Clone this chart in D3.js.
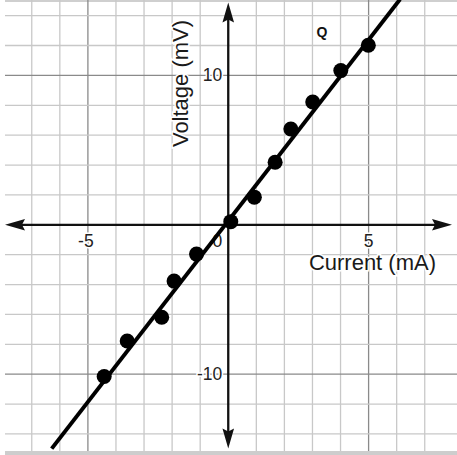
<!DOCTYPE html>
<html><head><meta charset="utf-8">
<script src="https://cdn.jsdelivr.net/npm/d3@7/dist/d3.min.js"></script>
<style>html,body{margin:0;padding:0;background:#fff;}svg{display:block;}</style>
</head><body>
<script>
// ---- data ----
const currents = [-4.42, -3.6, -2.37, -1.93, -1.13, 0.09, 0.93, 1.67, 2.23, 3.01, 4.01, 4.99];
const voltages = [-10.15, -7.78, -6.19, -3.77, -1.96, 0.21, 1.85, 4.19, 6.41, 8.22, 10.32, 12.02];
const fitX = [-6.29, 6.12];
const fitY = [-14.98, 15.09];
const xTickValues = [-5, 0, 5];
const xTickLabels = ["-5", "0", "5"];
const yTickValues = [10, -10];
const yTickLabels = ["10", "-10"];
const xGrid = [-7,-6,-5,-4,-3,-2,-1,1,2,3,4,5,6,7];
const yGrid = [14,12,10,8,6,4,2,-2,-4,-6,-8,-10,-12,-14];
const xTitle = "Current (mA)";
const yTitle = "Voltage (mV)";
const pointLabel = "Q";

const W = 457, H = 455;
const x = d3.scaleLinear().domain([-5, 5]).range([87.9, 368.6]);
const y = d3.scaleLinear().domain([-10, 10]).range([374.2, 75.4]);

const svg = d3.select("body").append("svg").attr("width", W).attr("height", H);
const left = 5;

// top & bottom border bands
svg.append("rect").attr("x", left).attr("y", 0).attr("width", W - left).attr("height", 2).attr("fill", "#cfcfcf");
svg.append("rect").attr("x", left).attr("y", 451).attr("width", W - left).attr("height", 4).attr("fill", "#cdcdcd");

// grid
const g = svg.append("g");
g.selectAll("line.vx").data(xGrid).join("line")
  .attr("x1", d => x(d)).attr("x2", d => x(d)).attr("y1", 0).attr("y2", 451)
  .attr("stroke", d => Math.abs(d) === 5 ? "#8a8a8a" : "#c8c8c8").attr("stroke-width", 1.3);
g.selectAll("line.hy").data(yGrid).join("line")
  .attr("y1", d => y(d)).attr("y2", d => y(d)).attr("x1", left).attr("x2", W)
  .attr("stroke", d => Math.abs(d) === 10 ? "#8a8a8a" : "#c8c8c8").attr("stroke-width", 1.3);

// axes
const x0 = x(0), y0 = y(0);
svg.append("line").attr("x1", 12).attr("x2", 445).attr("y1", y0).attr("y2", y0).attr("stroke", "#111").attr("stroke-width", 2.3);
svg.append("line").attr("x1", x0).attr("x2", x0).attr("y1", 10).attr("y2", 440).attr("stroke", "#111").attr("stroke-width", 2.3);
function arrow(tx, ty, dx, dy) {
  const L = 20, hw = 5.8, notch = 3;
  const px = -dy, py = dx;
  const bx = tx - dx * L, by = ty - dy * L;
  const p = [
    [tx, ty],
    [bx + px * hw, by + py * hw],
    [bx + dx * notch, by + dy * notch],
    [bx - px * hw, by - py * hw]
  ];
  svg.append("path").attr("d", "M" + p.map(q => q.join(",")).join("L") + "Z").attr("fill", "#111");
}
arrow(5, y0, -1, 0);
arrow(452, y0, 1, 0);
arrow(x0, 2.5, 0, -1);
arrow(x0, 448.5, 0, 1);

// tick labels
const lab = svg.append("g").attr("font-family", "Liberation Sans, Arial, sans-serif").attr("font-size", 17.5)
  .attr("fill", "#222").attr("stroke", "#fff").attr("stroke-width", 3).attr("paint-order", "stroke");
xTickValues.forEach((v, i) => {
  const t = lab.append("text").attr("y", y0 + 22).text(xTickLabels[i]);
  if (v === 0) t.attr("x", x0 - 6).attr("text-anchor", "end");
  else t.attr("x", x(v) - (v < 0 ? 2 : 0)).attr("text-anchor", "middle");
});
yTickValues.forEach((v, i) => {
  lab.append("text").attr("x", x0 - 6).attr("y", y(v) + 6).attr("text-anchor", "end").text(yTickLabels[i]);
});

// fit line
svg.append("line").attr("x1", x(fitX[0])).attr("y1", y(fitY[0])).attr("x2", x(fitX[1])).attr("y2", y(fitY[1]))
  .attr("stroke", "#000").attr("stroke-width", 4);

// points
svg.append("g").selectAll("circle").data(currents.map((c, i) => [c, voltages[i]])).join("circle")
  .attr("cx", d => x(d[0])).attr("cy", d => y(d[1])).attr("r", 7.5).attr("fill", "#000");

// axis titles
const tt = svg.append("g").attr("font-family", "Liberation Sans, Arial, sans-serif").attr("font-size", 22)
  .attr("fill", "#1a1a1a").attr("stroke", "#fff").attr("stroke-width", 3).attr("paint-order", "stroke");
tt.append("text").attr("x", 436).attr("y", 270).attr("text-anchor", "end").text(xTitle);
tt.append("text").attr("transform", `translate(188,83.5) rotate(-90)`).attr("text-anchor", "middle").text(yTitle);

svg.append("text").attr("x", 322).attr("y", 37).attr("text-anchor", "middle")
  .attr("font-family", "Liberation Sans, Arial, sans-serif").attr("font-size", 14).attr("font-weight", "bold")
  .attr("fill", "#111").text(pointLabel);
</script>
</body></html>
